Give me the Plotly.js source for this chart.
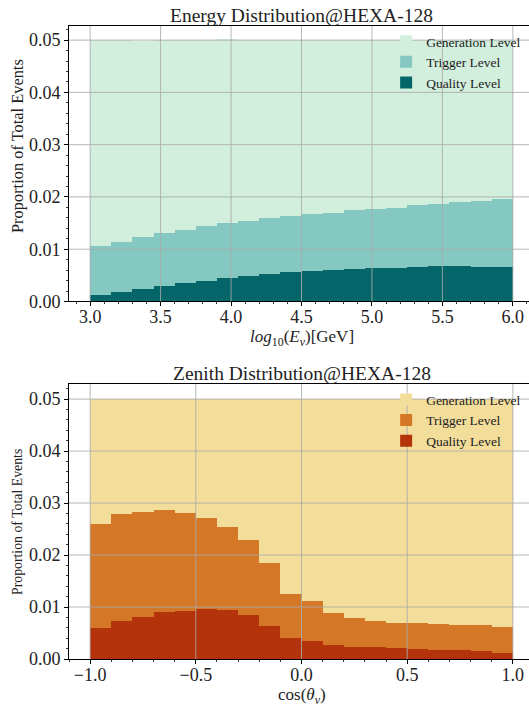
<!DOCTYPE html>
<html><head><meta charset="utf-8">
<script src="https://cdn.plot.ly/plotly-3.0.1.min.js"></script>
<style>html,body{margin:0;padding:0;overflow:hidden;background:#fff;width:529px;height:707px}#plot{width:540px;height:707px}</style>
</head><body><div id="plot"></div><script>
// ---- data ----
var energyBins = [3.075,3.225,3.375,3.525,3.675,3.825,3.975,4.125,4.275,4.425,4.575,4.725,4.875,5.025,5.175,5.325,5.475,5.625,5.775,5.925];
var energyGen = [0.0500,0.0500,0.0499,0.0500,0.0500,0.0500,0.0502,0.0500,0.0500,0.0501,0.0500,0.0500,0.0500,0.0500,0.0500,0.0500,0.0500,0.0500,0.0500,0.0500];
var energyTrig = [0.01064,0.01141,0.01236,0.01313,0.01371,0.01447,0.01505,0.01543,0.01601,0.01626,0.01677,0.01696,0.01754,0.01773,0.01792,0.01837,0.01869,0.01907,0.01927,0.01965];
var energyQual = [0.00125,0.00182,0.00246,0.00297,0.00355,0.00393,0.00450,0.00489,0.00527,0.00565,0.00591,0.00610,0.00623,0.00642,0.00642,0.00655,0.00681,0.00681,0.00661,0.00661];

var zenithBins = [-0.95,-0.85,-0.75,-0.65,-0.55,-0.45,-0.35,-0.25,-0.15,-0.05,0.05,0.15,0.25,0.35,0.45,0.55,0.65,0.75,0.85,0.95];
var zenithGen = [0.0500,0.0500,0.0500,0.0500,0.0500,0.0500,0.0500,0.0501,0.0500,0.0500,0.0500,0.0500,0.0500,0.0500,0.0500,0.0500,0.0500,0.0501,0.0500,0.0500];
var zenithTrig = [0.02603,0.02795,0.02833,0.02872,0.02814,0.02718,0.02545,0.02295,0.01853,0.01256,0.01122,0.00891,0.00795,0.00737,0.00699,0.00699,0.00679,0.00660,0.00660,0.00622];
var zenithQual = [0.00603,0.00737,0.00814,0.00910,0.00929,0.00968,0.00949,0.00853,0.00641,0.00410,0.00353,0.00276,0.00237,0.00237,0.00218,0.00199,0.00179,0.00179,0.00160,0.00122];

var levelNames = ['Generation Level','Trigger Level','Quality Level'];
var energyTicks = [3.0,3.5,4.0,4.5,5.0,5.5,6.0];
var energyTickText = ['3.0','3.5','4.0','4.5','5.0','5.5','6.0'];
var zenithTicks = [-1.0,-0.5,0.0,0.5,1.0];
var zenithTickText = ['\u22121.0','\u22120.5','0.0','0.5','1.0'];
var yTicks = [0,0.01,0.02,0.03,0.04,0.05];
var yTickText = ['0.00','0.01','0.02','0.03','0.04','0.05'];
var titles = ['Energy Distribution@HEXA-128','Zenith Distribution@HEXA-128'];
var xTitles = ['<i>log</i><sub>10</sub>(<i>E</i><sub><i>ν</i></sub>)[GeV]','cos(<i>θ</i><sub><i>ν</i></sub>)'];
var yTitle = 'Proportion of Total Events';

// ---- style ----
var FONT = 'Liberation Serif, Times New Roman, serif';
var energyColors = ['#d2efdd','#85c8c1','#046668'];
var zenithColors = ['#f3dd9b','#d47828','#b5330a'];
var GRID = 'rgba(170,170,170,0.85)';
var TXT = '#222';

function bars(x, y, name, color, xa, ya, leg) {
  return {type:'bar', x:x, y:y, name:name, width:x[1]-x[0],
    marker:{color:color, line:{width:0}}, xaxis:xa, yaxis:ya, legend:leg,
    hoverinfo:'skip'};
}
var traces = [
  bars(energyBins, energyGen, levelNames[0], energyColors[0], 'x', 'y', 'legend'),
  bars(energyBins, energyTrig, levelNames[1], energyColors[1], 'x', 'y', 'legend'),
  bars(energyBins, energyQual, levelNames[2], energyColors[2], 'x', 'y', 'legend'),
  bars(zenithBins, zenithGen, levelNames[0], zenithColors[0], 'x2', 'y2', 'legend2'),
  bars(zenithBins, zenithTrig, levelNames[1], zenithColors[1], 'x2', 'y2', 'legend2'),
  bars(zenithBins, zenithQual, levelNames[2], zenithColors[2], 'x2', 'y2', 'legend2')
];

var shapes = [];
function vgrid(vals, xa, ya) {
  vals.forEach(function(v){ shapes.push({type:'line', xref:xa, yref:ya+' domain', x0:v, x1:v, y0:0, y1:1, layer:'above', line:{color:GRID, width:1}}); });
}
function hgrid(vals, xa, ya) {
  vals.forEach(function(v){ if (v === 0) return; shapes.push({type:'line', xref:xa+' domain', yref:ya, x0:0, x1:1, y0:v, y1:v, layer:'above', line:{color:GRID, width:1}}); });
}
vgrid(energyTicks, 'x', 'y'); hgrid(yTicks, 'x', 'y');
vgrid(zenithTicks, 'x2', 'y2'); hgrid(yTicks, 'x2', 'y2');

function xaxis(range, ticks, text, anchor) {
  return {range:range, tickmode:'array', tickvals:ticks, ticktext:text, anchor:anchor,
    showgrid:false, zeroline:false, showline:true, linecolor:'#000', linewidth:1, mirror:true,
    ticks:'outside', ticklen:4, tickwidth:1, tickcolor:'#000', ticklabelstandoff:-5,
    minor:{dtick:0.1, tick0:0, ticks:'outside', ticklen:2, tickwidth:0.8, tickcolor:'#000', showgrid:false},
    tickfont:{family:FONT, size:18, color:TXT}};
}
function yaxis(range, domain, anchor) {
  return {range:range, domain:domain, anchor:anchor, tickmode:'array', tickvals:yTicks, ticktext:yTickText,
    showgrid:false, zeroline:false, showline:true, linecolor:'#000', linewidth:1, mirror:true,
    ticks:'outside', ticklen:4, tickwidth:1, tickcolor:'#000',
    minor:{dtick:0.002, tick0:0, ticks:'outside', ticklen:2, tickwidth:0.8, tickcolor:'#000', showgrid:false},
    tickfont:{family:FONT, size:18, color:TXT}};
}

var legendBase = {bgcolor:'rgba(0,0,0,0)', borderwidth:0, font:{family:FONT, size:13.5, color:TXT},
  xanchor:'left', yanchor:'top', tracegroupgap:0, itemclick:false, traceorder:'normal'};
var legend1 = Object.assign({}, legendBase, {x:0.682, y:1.0, xref:'paper', yref:'paper'});
var legend2 = Object.assign({}, legendBase, {x:0.682, y:0.434, xref:'paper', yref:'paper'});

function ann(text, x, y, size, angle) {
  return {text:text, xref:'paper', yref:'paper', x:x, y:y, xanchor:'center', yanchor:'middle',
    showarrow:false, textangle:angle||0, font:{family:FONT, size:size, color:TXT}};
}

var layout = {
  width:540, height:707,
  margin:{l:69, r:6, t:26, b:48},
  paper_bgcolor:'#fff', plot_bgcolor:'#fff',
  barmode:'overlay', bargap:0, showlegend:true,
  font:{family:FONT, color:TXT},
  xaxis: xaxis([2.85,6.15], energyTicks, energyTickText, 'y'),
  yaxis: yaxis([0,0.0527], [0.5648,1], 'x'),
  xaxis2: xaxis([-1.1,1.1], zenithTicks, zenithTickText, 'y2'),
  yaxis2: yaxis([0,0.0529], [0,0.4344], 'x2'),
  legend: legend1, legend2: legend2,
  shapes: shapes,
  annotations:[
    ann(titles[0], 0.5, 1.0166, 19.5),
    ann(titles[1], 0.5, 0.4518, 19.5),
    ann(xTitles[0], 0.5, 0.5071, 17),
    ann(xTitles[1], 0.5, -0.0585, 17),
    ann(yTitle, -0.1118, 0.8104, 16.4, -90),
    ann(yTitle, -0.1118, 0.2164, 13.8, -90)
  ]
};
Plotly.newPlot('plot', traces, layout, {displayModeBar:false, staticPlot:true});
</script></body></html>
